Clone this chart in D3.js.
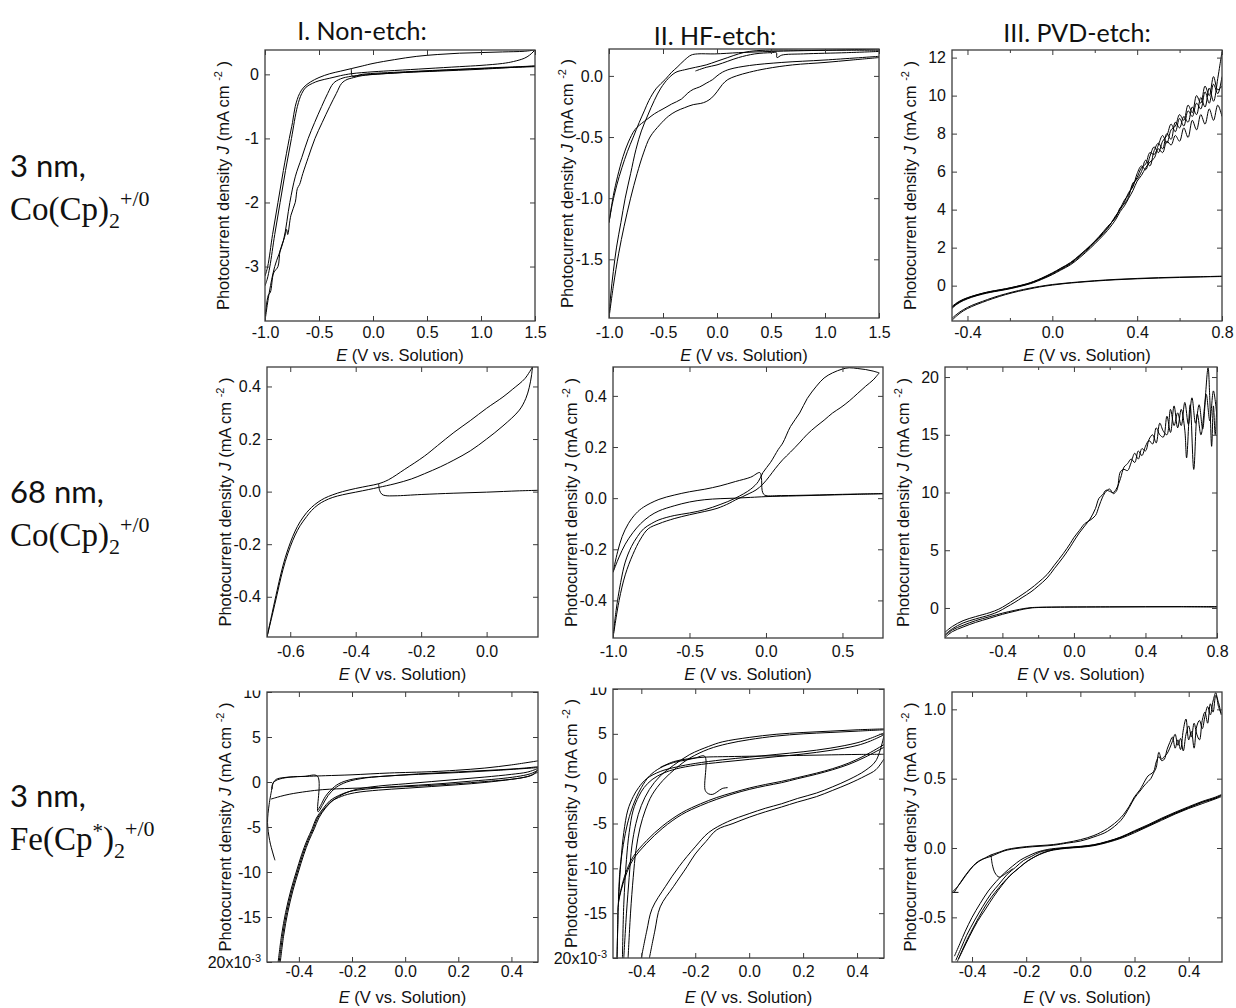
<!DOCTYPE html>
<html>
<head>
<meta charset="utf-8">
<script src="https://cdn.jsdelivr.net/npm/d3@7"></script>
<style>
  body { margin: 0; background: #fff; }
  svg { display: block; }
</style>
</head>
<body>
<script>
// ---------- column / row headings ----------
const colTitles = ['I. Non-etch:', 'II. HF-etch:', 'III. PVD-etch:']

// ---------- tick values ----------
const xTicksWide = [-1, -0.5, 0, 0.5, 1, 1.5]
const xTicksPvd = [-0.4, 0, 0.4, 0.8]
const xMinorPvd3 = [-0.2, 0.2, 0.6]
const xMinorPvd68 = [-0.6, -0.2, 0.2, 0.6]
const xTicks68Non = [-0.6, -0.4, -0.2, 0]
const xTicks68Hf = [-1, -0.5, 0, 0.5]
const xTicksFe = [-0.4, -0.2, 0, 0.2, 0.4]
const yTicksP1 = [0, -1, -2, -3]
const yTicksP2 = [0, -0.5, -1, -1.5]
const yTicksP3 = [0, 2, 4, 6, 8, 10, 12]
const yTicks68 = [-0.4, -0.2, 0, 0.2, 0.4]
const yTicksP6 = [0, 5, 10, 15, 20]
const yTicksFe = [10, 5, 0, -5, -10, -15, -20]
const yTicksP9 = [1, 0.5, 0, -0.5]

// ---------- I. Non-etch, 3 nm Co(Cp)2 ----------
const p1Fwd = [[-1.0,-3.15],[-0.975,-3.0],[-0.93,-2.5],[-0.88,-2.0],[-0.83,-1.5],[-0.775,-1.0],[-0.745,-0.75],[-0.72,-0.5],[-0.68,-0.3],[-0.64,-0.2],[-0.58,-0.12],[-0.5,-0.05],[-0.4,0.01],[-0.3,0.05],[-0.2,0.09],[-0.1,0.13],[0.0,0.17],[0.2,0.23],[0.4,0.28],[0.6,0.31],[0.8,0.33],[1.0,0.34],[1.2,0.35],[1.4,0.36],[1.5,0.38]]
const p1Rev = [[1.5,0.38],[1.45,0.3],[1.4,0.25],[1.3,0.2],[1.2,0.17],[1.0,0.14],[0.8,0.12],[0.5,0.09],[0.2,0.06],[0.0,0.04],[-0.2,0.01],[-0.3,-0.02],[-0.4,-0.06],[-0.5,-0.1],[-0.56,-0.14],[-0.62,-0.2],[-0.66,-0.3],[-0.7,-0.5],[-0.755,-1.0],[-0.81,-1.5],[-0.86,-2.0],[-0.91,-2.5],[-0.955,-3.0],[-0.98,-3.2],[-1.0,-3.3]]
const p1Mid1 = [[-1.0,-3.85],[-0.96,-3.4],[-0.91,-3.0],[-0.83,-2.6],[-0.77,-2.0],[-0.72,-1.6],[-0.66,-1.3],[-0.6,-1.0],[-0.54,-0.75],[-0.475,-0.5],[-0.42,-0.3],[-0.367,-0.14],[-0.3,-0.07],[-0.2,-0.03],[0.0,0.0],[0.3,0.03],[0.6,0.05],[1.0,0.08],[1.5,0.13]]
const p1Mid2 = [[-1.0,-3.8],[-0.97,-3.45],[-0.95,-3.4],[-0.92,-3.1],[-0.88,-3.0],[-0.86,-2.75],[-0.82,-2.55],[-0.8,-2.42],[-0.79,-2.5],[-0.76,-2.2],[-0.72,-2.0],[-0.7,-1.78],[-0.68,-1.72],[-0.65,-1.55],[-0.6,-1.3],[-0.537,-1.0],[-0.47,-0.75],[-0.4,-0.5],[-0.34,-0.3],[-0.29,-0.14],[-0.24,-0.08],[-0.2,-0.06],[-0.1,-0.02],[0.2,0.02],[0.5,0.05],[1.0,0.09],[1.5,0.12]]
const p1Start = [[-0.2,0.09],[-0.19,-0.03],[-0.1,0.0],[0.3,0.04],[0.8,0.08],[1.2,0.11],[1.5,0.13]]

// ---------- II. HF-etch, 3 nm Co(Cp)2 ----------
const p2A = [[-1.0,-1.2],[-0.97,-1.05],[-0.93,-0.9],[-0.88,-0.75],[-0.83,-0.62],[-0.775,-0.5],[-0.72,-0.38],[-0.67,-0.28],[-0.63,-0.2],[-0.56,-0.1],[-0.48,-0.03],[-0.42,0.03],[-0.37,0.07],[-0.3,0.13],[-0.24,0.17],[-0.18,0.18],[-0.02,0.18],[0.2,0.19],[0.5,0.2],[1.0,0.21],[1.5,0.22]]
const p2B = [[-1.0,-1.2],[-0.96,-0.98],[-0.92,-0.82],[-0.87,-0.66],[-0.82,-0.54],[-0.76,-0.44],[-0.7,-0.39],[-0.64,-0.35],[-0.58,-0.31],[-0.5,-0.27],[-0.42,-0.23],[-0.33,-0.19],[-0.27,-0.14],[-0.22,-0.11],[-0.16,-0.09],[-0.1,-0.06],[-0.04,-0.03],[0.0,0.0],[0.05,0.03],[0.12,0.055],[0.3,0.085],[0.6,0.11],[1.0,0.13],[1.5,0.16]]
const p2C = [[-1.0,-1.98],[-0.96,-1.72],[-0.91,-1.45],[-0.86,-1.23],[-0.8,-1.0],[-0.74,-0.8],[-0.68,-0.63],[-0.62,-0.5],[-0.53,-0.4],[-0.45,-0.33],[-0.38,-0.29],[-0.3,-0.26],[-0.22,-0.235],[-0.15,-0.225],[-0.1,-0.21],[-0.05,-0.18],[0.0,-0.13],[0.05,-0.07],[0.1,-0.03],[0.18,0.0],[0.3,0.03],[0.46,0.06],[0.7,0.09],[1.0,0.11],[1.25,0.13],[1.5,0.15]]
const p2D = [[-1.0,-1.98],[-0.985,-1.8],[-0.96,-1.6],[-0.93,-1.4],[-0.89,-1.2],[-0.85,-1.0],[-0.8,-0.8],[-0.75,-0.6],[-0.7,-0.45],[-0.64,-0.32],[-0.58,-0.2],[-0.52,-0.1],[-0.45,-0.02],[-0.38,0.03],[-0.3,0.05],[-0.2,0.07],[-0.1,0.09],[0.0,0.12],[0.1,0.15],[0.2,0.18],[0.3,0.2],[0.45,0.21],[0.8,0.21],[1.2,0.21],[1.5,0.21]]
const p2Start = [[-0.2,0.04],[-0.1,0.07],[0.0,0.09],[0.1,0.12],[0.2,0.15],[0.35,0.18],[0.5,0.19],[0.55,0.19],[0.555,0.15],[0.6,0.17],[0.8,0.18],[1.2,0.19],[1.5,0.2]]

// ---------- III. PVD-etch, 3 nm Co(Cp)2 ----------
const p3Up1 = [[-0.473,-1.15],[-0.45,-0.95],[-0.42,-0.76],[-0.38,-0.59],[-0.33,-0.43],[-0.29,-0.33],[-0.22,-0.19],[-0.17,-0.07],[-0.12,0.07],[-0.088,0.19],[-0.05,0.36],[0.0,0.62],[0.04,0.86],[0.086,1.15],[0.13,1.55],[0.18,2.05],[0.22,2.5],[0.26,3.0],[0.3,3.7],[0.32,4.0],[0.34,4.4],[0.36,4.9],[0.38,5.2],[0.4,5.9],[0.42,6.3],[0.44,6.1],[0.46,6.8],[0.48,7.3],[0.5,7.0],[0.52,7.6],[0.54,7.9],[0.56,8.5],[0.58,8.1],[0.6,8.8],[0.62,8.4],[0.64,9.2],[0.66,8.9],[0.68,9.6],[0.7,9.3],[0.72,10.2],[0.74,9.6],[0.76,10.6],[0.78,10.1],[0.8,11.0]]
const p3Up2 = [[-0.473,-1.1],[-0.45,-0.9],[-0.42,-0.72],[-0.38,-0.56],[-0.33,-0.4],[-0.29,-0.3],[-0.22,-0.16],[-0.17,-0.04],[-0.12,0.1],[-0.088,0.22],[-0.05,0.4],[0.0,0.67],[0.04,0.92],[0.086,1.22],[0.13,1.62],[0.18,2.12],[0.22,2.58],[0.26,3.1],[0.3,3.6],[0.32,4.1],[0.34,4.3],[0.36,4.7],[0.38,5.4],[0.4,5.6],[0.42,6.0],[0.44,6.6],[0.46,6.3],[0.48,7.1],[0.5,7.5],[0.52,7.2],[0.54,8.0],[0.56,7.7],[0.58,8.6],[0.6,8.3],[0.62,8.9],[0.64,8.6],[0.66,9.4],[0.68,9.0],[0.7,9.9],[0.72,9.4],[0.74,10.4],[0.76,9.7],[0.78,10.9],[0.79,11.6],[0.8,12.3]]
const p3Up3 = [[-0.473,-1.2],[-0.45,-0.98],[-0.42,-0.79],[-0.38,-0.61],[-0.33,-0.45],[-0.29,-0.35],[-0.22,-0.21],[-0.17,-0.09],[-0.12,0.05],[-0.088,0.16],[-0.05,0.33],[0.0,0.58],[0.04,0.82],[0.086,1.1],[0.13,1.48],[0.18,1.98],[0.22,2.42],[0.26,2.9],[0.3,3.5],[0.32,3.9],[0.34,4.2],[0.36,4.6],[0.38,5.0],[0.4,5.5],[0.42,5.8],[0.44,6.2],[0.46,6.5],[0.48,6.7],[0.5,7.2],[0.52,7.0],[0.54,7.6],[0.56,7.4],[0.58,7.9],[0.6,7.6],[0.62,8.3],[0.64,7.8],[0.66,8.7],[0.68,8.2],[0.7,9.0],[0.72,8.5],[0.74,9.3],[0.76,8.7],[0.78,9.5],[0.8,8.9]]
const p3Up4 = [[-0.473,-1.13],[-0.45,-0.93],[-0.42,-0.74],[-0.38,-0.57],[-0.33,-0.41],[-0.29,-0.31],[-0.22,-0.17],[-0.17,-0.05],[-0.12,0.09],[-0.088,0.21],[-0.05,0.38],[0.0,0.65],[0.04,0.9],[0.086,1.19],[0.13,1.6],[0.18,2.1],[0.22,2.55],[0.26,3.05],[0.3,3.65],[0.32,4.05],[0.34,4.5],[0.36,4.8],[0.38,5.3],[0.4,5.7],[0.42,6.2],[0.44,6.4],[0.46,7.0],[0.48,6.9],[0.5,7.4],[0.52,7.9],[0.54,7.5],[0.56,8.2],[0.58,8.4],[0.6,9.0],[0.62,8.7],[0.64,9.5],[0.66,9.1],[0.68,10.0],[0.7,9.6],[0.72,10.5],[0.74,10.0],[0.76,11.0],[0.78,10.3],[0.8,10.5]]
const p3Low1 = [[-0.473,-1.82],[-0.45,-1.58],[-0.42,-1.33],[-0.38,-1.1],[-0.33,-0.88],[-0.28,-0.68],[-0.22,-0.47],[-0.16,-0.3],[-0.11,-0.18],[-0.06,-0.07],[0.0,0.03],[0.06,0.11],[0.12,0.17],[0.2,0.24],[0.3,0.31],[0.4,0.36],[0.5,0.4],[0.6,0.43],[0.7,0.46],[0.8,0.48]]
const p3Low2 = [[-0.473,-1.72],[-0.45,-1.5],[-0.42,-1.27],[-0.38,-1.04],[-0.33,-0.83],[-0.28,-0.63],[-0.22,-0.43],[-0.16,-0.26],[-0.11,-0.14],[-0.06,-0.04],[0.0,0.06],[0.06,0.13],[0.12,0.19],[0.2,0.26],[0.3,0.33],[0.4,0.38],[0.5,0.42],[0.6,0.45],[0.7,0.47],[0.8,0.5]]

// ---------- I. Non-etch, 68 nm Co(Cp)2 ----------
const p4Start = [[-0.33,0.03],[-0.327,0.005],[-0.32,-0.01],[-0.31,-0.015],[-0.28,-0.016],[-0.2,-0.011],[-0.1,-0.006],[0.0,-0.002],[0.1,0.003],[0.157,0.005]]
const p4Fwd = [[-0.671,-0.553],[-0.655,-0.47],[-0.64,-0.39],[-0.628,-0.325],[-0.615,-0.265],[-0.6,-0.21],[-0.585,-0.165],[-0.57,-0.13],[-0.55,-0.095],[-0.535,-0.072],[-0.515,-0.05],[-0.495,-0.035],[-0.47,-0.022],[-0.44,-0.012],[-0.4,-0.002],[-0.36,0.008],[-0.33,0.016],[-0.28,0.03],[-0.23,0.048],[-0.19,0.068],[-0.14,0.095],[-0.1,0.12],[-0.05,0.155],[0.0,0.2],[0.05,0.25],[0.1,0.31],[0.12,0.355],[0.13,0.395],[0.137,0.44],[0.14,0.474]]
const p4Rev = [[0.14,0.474],[0.117,0.43],[0.08,0.39],[0.05,0.36],[0.0,0.317],[-0.05,0.27],[-0.1,0.225],[-0.15,0.175],[-0.19,0.135],[-0.25,0.085],[-0.3,0.045],[-0.33,0.03],[-0.36,0.022],[-0.4,0.012],[-0.44,0.0],[-0.47,-0.012],[-0.495,-0.025],[-0.515,-0.04],[-0.535,-0.06],[-0.55,-0.08],[-0.57,-0.115],[-0.585,-0.15],[-0.6,-0.195],[-0.615,-0.25],[-0.628,-0.31],[-0.64,-0.375],[-0.655,-0.46],[-0.671,-0.553]]

// ---------- II. HF-etch, 68 nm Co(Cp)2 ----------
const p5Top = [[-1.0,-0.29],[-0.97,-0.21],[-0.94,-0.15],[-0.9,-0.1],[-0.85,-0.06],[-0.8,-0.035],[-0.7,-0.005],[-0.6,0.012],[-0.5,0.025],[-0.4,0.035],[-0.3,0.048],[-0.2,0.065],[-0.1,0.082],[-0.04,0.1],[-0.03,0.08],[-0.025,0.03],[-0.015,0.015],[0.0,0.01],[0.1,0.01],[0.3,0.012],[0.5,0.015],[0.765,0.018]]
const p5Flat = [[-1.0,-0.29],[-0.96,-0.23],[-0.92,-0.18],[-0.87,-0.135],[-0.82,-0.1],[-0.76,-0.07],[-0.7,-0.05],[-0.6,-0.03],[-0.5,-0.015],[-0.4,-0.006],[-0.3,-0.002],[-0.2,0.0],[-0.1,0.003],[0.0,0.006],[0.2,0.009],[0.4,0.012],[0.6,0.015],[0.765,0.017]]
const p5Fwd = [[-1.0,-0.547],[-0.98,-0.44],[-0.95,-0.33],[-0.92,-0.25],[-0.88,-0.19],[-0.84,-0.15],[-0.8,-0.12],[-0.75,-0.1],[-0.7,-0.085],[-0.6,-0.068],[-0.5,-0.058],[-0.4,-0.045],[-0.3,-0.025],[-0.2,0.0],[-0.1,0.035],[-0.05,0.065],[-0.02,0.1],[0.03,0.14],[0.08,0.19],[0.11,0.216],[0.16,0.28],[0.22,0.333],[0.27,0.39],[0.33,0.438],[0.38,0.47],[0.435,0.49],[0.5,0.505],[0.544,0.51],[0.6,0.507],[0.652,0.503],[0.7,0.497],[0.74,0.49]]
const p5Rev = [[0.74,0.49],[0.7,0.462],[0.652,0.438],[0.6,0.41],[0.544,0.38],[0.49,0.355],[0.435,0.333],[0.38,0.305],[0.327,0.28],[0.27,0.25],[0.218,0.216],[0.16,0.18],[0.109,0.15],[0.06,0.115],[0.022,0.085],[-0.02,0.055],[-0.065,0.032],[-0.11,0.018],[-0.152,0.006],[-0.2,-0.007],[-0.24,-0.02],[-0.32,-0.04],[-0.4,-0.052],[-0.5,-0.065],[-0.6,-0.08],[-0.7,-0.1],[-0.77,-0.12],[-0.82,-0.16],[-0.87,-0.22],[-0.92,-0.3],[-0.96,-0.4],[-1.0,-0.547]]

// ---------- III. PVD-etch, 68 nm Co(Cp)2 ----------
const p6Up1 = [[-0.721,-2.3],[-0.68,-1.8],[-0.62,-1.3],[-0.55,-0.95],[-0.47,-0.6],[-0.42,-0.3],[-0.38,0.05],[-0.33,0.5],[-0.29,0.9],[-0.24,1.4],[-0.2,1.9],[-0.15,2.6],[-0.11,3.4],[-0.06,4.4],[-0.02,5.3],[0.0,5.8],[0.03,6.5],[0.06,7.1],[0.09,7.7],[0.12,8.6],[0.14,9.5],[0.16,9.8],[0.18,10.2],[0.2,10.1],[0.22,10.0],[0.24,10.4],[0.26,11.2],[0.28,12.2],[0.3,12.5],[0.32,12.9],[0.34,12.6],[0.36,13.6],[0.38,13.2],[0.4,14.0],[0.42,14.5],[0.44,14.2],[0.46,15.6],[0.48,15.0],[0.5,14.8],[0.52,16.6],[0.54,15.2],[0.56,17.5],[0.58,15.6],[0.6,17.2],[0.62,15.4],[0.63,13.0],[0.65,17.6],[0.67,12.0],[0.69,16.8],[0.71,15.0],[0.73,17.4],[0.75,20.8],[0.76,18.0],[0.77,14.0],[0.78,17.5],[0.79,15.0],[0.8,18.0]]
const p6Up2 = [[-0.721,-2.1],[-0.68,-1.6],[-0.62,-1.1],[-0.55,-0.75],[-0.47,-0.4],[-0.42,-0.1],[-0.38,0.25],[-0.33,0.75],[-0.29,1.15],[-0.24,1.7],[-0.2,2.2],[-0.15,2.9],[-0.11,3.7],[-0.06,4.7],[-0.02,5.6],[0.0,6.1],[0.03,6.7],[0.06,7.3],[0.09,7.6],[0.12,8.0],[0.14,8.8],[0.16,9.6],[0.18,10.1],[0.2,10.3],[0.22,9.9],[0.24,10.2],[0.26,11.8],[0.28,12.0],[0.3,11.9],[0.32,12.6],[0.34,13.4],[0.36,12.9],[0.38,13.8],[0.4,13.6],[0.42,14.6],[0.44,15.0],[0.46,14.3],[0.48,16.0],[0.5,15.3],[0.52,15.0],[0.54,17.2],[0.56,15.8],[0.58,16.9],[0.6,15.8],[0.62,17.8],[0.64,15.9],[0.66,18.2],[0.68,16.0],[0.7,17.6],[0.72,15.5],[0.74,18.5],[0.76,16.2],[0.78,18.8],[0.8,16.5]]
const p6Low1 = [[-0.721,-2.55],[-0.68,-2.05],[-0.62,-1.65],[-0.55,-1.25],[-0.47,-0.88],[-0.4,-0.55],[-0.33,-0.28],[-0.28,-0.1],[-0.24,0.0],[-0.2,0.04],[-0.1,0.07],[0.0,0.08],[0.2,0.09],[0.4,0.1],[0.6,0.1],[0.8,0.08]]
const p6Low2 = [[-0.721,-2.4],[-0.68,-1.9],[-0.62,-1.5],[-0.55,-1.1],[-0.47,-0.75],[-0.4,-0.45],[-0.33,-0.2],[-0.28,-0.05],[-0.24,0.03],[-0.2,0.06],[-0.1,0.08],[0.0,0.09],[0.2,0.1],[0.4,0.11],[0.6,0.12],[0.8,0.12]]

// ---------- I. Non-etch, 3 nm Fe(Cp*)2 ----------
const p7Bot1 = [[-0.478,-20],[-0.465,-17],[-0.45,-14.5],[-0.43,-12],[-0.41,-10],[-0.39,-8.1],[-0.37,-6.5],[-0.35,-5.2],[-0.334,-4.0],[-0.31,-3.0],[-0.284,-2.1],[-0.25,-1.5],[-0.209,-1.05],[-0.15,-0.8],[-0.06,-0.55],[0.05,-0.35],[0.15,-0.15],[0.25,0.1],[0.35,0.35],[0.42,0.6],[0.47,0.9],[0.5,1.3]]
const p7Bot2 = [[-0.47,-20],[-0.457,-17],[-0.442,-14.5],[-0.422,-12],[-0.402,-10],[-0.382,-8.1],[-0.362,-6.5],[-0.342,-5.2],[-0.325,-4.0],[-0.3,-2.9],[-0.27,-2.0],[-0.23,-1.3],[-0.18,-0.8],[-0.1,-0.45],[0.0,-0.2],[0.1,0.05],[0.2,0.3],[0.3,0.55],[0.4,0.85],[0.46,1.1],[0.5,1.5]]
const p7Bot3 = [[-0.474,-20],[-0.461,-17],[-0.446,-14.5],[-0.426,-12],[-0.406,-10],[-0.386,-8.1],[-0.366,-6.5],[-0.346,-5.2],[-0.33,-4.0],[-0.305,-3.0],[-0.28,-2.2],[-0.24,-1.6],[-0.19,-1.2],[-0.1,-0.9],[0.0,-0.7],[0.1,-0.5],[0.2,-0.3],[0.3,-0.05],[0.4,0.3],[0.46,0.6],[0.5,1.1]]
const p7Top1 = [[-0.503,-0.96],[-0.5,-0.3],[-0.49,0.1],[-0.47,0.35],[-0.43,0.55],[-0.38,0.62],[-0.33,0.65],[-0.328,-3.3],[-0.31,-2.5],[-0.29,-1.5],[-0.26,-0.6],[-0.22,0.0],[-0.15,0.45],[-0.05,0.7],[0.05,0.9],[0.15,1.05],[0.25,1.2],[0.35,1.35],[0.45,1.55],[0.5,1.7]]
const p7Top2 = [[-0.5,-0.8],[-0.497,-0.1],[-0.485,0.3],[-0.46,0.48],[-0.42,0.58],[-0.36,0.64],[-0.3,0.7],[-0.2,0.8],[-0.06,1.0],[0.1,1.15],[0.19,1.3],[0.3,1.55],[0.4,1.9],[0.5,2.35]]
const p7Drop = [[-0.328,-3.1],[-0.318,-2.6],[-0.3,-1.6],[-0.28,-0.9],[-0.25,-0.2],[-0.2,0.3],[-0.1,0.6],[0.05,0.85],[0.2,1.05],[0.35,1.3],[0.5,1.6]]
const p7Low = [[-0.505,-1.9],[-0.47,-1.6],[-0.434,-1.35],[-0.37,-1.05],[-0.31,-0.85],[-0.2,-0.7],[-0.06,-0.58],[0.05,-0.45],[0.19,-0.2],[0.3,0.05],[0.4,0.3],[0.44,0.48],[0.48,0.8],[0.5,1.4]]
const p7Spike = [[-0.503,-0.96],[-0.512,-2.5],[-0.518,-4.5],[-0.51,-6.5],[-0.497,-8.0],[-0.49,-8.7]]

// ---------- II. HF-etch, 3 nm Fe(Cp*)2 ----------
const p8Thick1 = [[-0.49,-20],[-0.487,-16],[-0.485,-13.9],[-0.46,-11],[-0.43,-9],[-0.38,-7.2],[-0.32,-5.5],[-0.25,-4.0],[-0.18,-3.0],[-0.12,-2.3],[-0.06,-1.7],[0.0,-1.2],[0.06,-0.8],[0.12,-0.45],[0.18,0.0],[0.25,0.5],[0.31,1.0],[0.37,1.6],[0.43,2.4],[0.5,3.5]]
const p8Thick2 = [[-0.485,-13.6],[-0.46,-10.7],[-0.43,-8.7],[-0.38,-6.9],[-0.32,-5.25],[-0.25,-3.8],[-0.18,-2.8],[-0.12,-2.1],[-0.06,-1.55],[0.0,-1.05],[0.06,-0.65],[0.12,-0.3],[0.18,0.12],[0.25,0.62],[0.31,1.12],[0.37,1.75],[0.43,2.6],[0.5,3.8]]
const p8Start = [[-0.485,-13.9],[-0.48,-10.5],[-0.47,-8.0],[-0.455,-5.5],[-0.44,-3.8],[-0.42,-2.2],[-0.4,-1.0],[-0.37,0.3],[-0.33,1.2],[-0.28,1.8],[-0.23,2.1],[-0.2,2.3],[-0.165,2.5],[-0.163,-1.3],[-0.15,-1.7],[-0.135,-1.75],[-0.12,-1.5],[-0.1,-1.1],[-0.08,-1.0]]
const p8Flat = [[-0.33,1.25],[-0.28,1.9],[-0.23,2.2],[-0.165,2.4],[-0.1,2.45],[0.0,2.5],[0.2,2.6],[0.4,2.7],[0.5,2.72]]
const p8Up1 = [[-0.465,-20],[-0.455,-15],[-0.445,-11],[-0.435,-7.5],[-0.42,-5.0],[-0.4,-3.0],[-0.37,-1.2],[-0.33,0.3],[-0.28,1.5],[-0.22,2.7],[-0.15,3.6],[-0.1,4.1],[0.0,4.6],[0.1,4.95],[0.2,5.15],[0.3,5.3],[0.4,5.45],[0.5,5.55]]
const p8Up2 = [[-0.449,-20],[-0.44,-15],[-0.43,-11],[-0.42,-8.0],[-0.405,-5.5],[-0.385,-3.5],[-0.36,-1.8],[-0.32,-0.2],[-0.27,1.2],[-0.22,2.3],[-0.15,3.3],[-0.08,3.9],[0.0,4.35],[0.1,4.75],[0.2,5.0],[0.3,5.15],[0.4,5.3],[0.5,5.45]]
const p8Ret1 = [[0.5,5.1],[0.45,4.5],[0.4,4.0],[0.3,3.4],[0.2,3.0],[0.1,2.7],[0.0,2.4],[-0.1,2.1],[-0.2,1.7],[-0.27,1.3],[-0.33,0.8],[-0.38,0.0],[-0.41,-1.0],[-0.43,-2.0],[-0.45,-3.5],[-0.465,-6.0],[-0.475,-9.0],[-0.485,-14],[-0.49,-20]]
const p8Ret2 = [[0.5,4.9],[0.45,4.2],[0.4,3.7],[0.3,3.15],[0.2,2.75],[0.1,2.45],[0.0,2.15],[-0.1,1.85],[-0.2,1.5],[-0.27,1.1],[-0.32,0.6],[-0.36,-0.1],[-0.39,-1.0],[-0.41,-2.0],[-0.43,-3.5],[-0.445,-6.0],[-0.455,-9.0],[-0.465,-14],[-0.47,-20]]
const p8Lo1 = [[0.5,2.2],[0.47,1.0],[0.43,0.3],[0.37,-0.56],[0.31,-1.3],[0.25,-2.0],[0.18,-2.6],[0.12,-3.16],[0.06,-3.7],[0.0,-4.3],[-0.06,-5.0],[-0.12,-5.7],[-0.16,-7.0],[-0.2,-8.4],[-0.23,-9.8],[-0.28,-12],[-0.33,-14.3],[-0.35,-17],[-0.37,-20]]
const p8Lo2 = [[0.5,4.8],[0.47,2.0],[0.43,0.9],[0.37,-0.1],[0.31,-0.9],[0.25,-1.6],[0.18,-2.2],[0.12,-2.8],[0.06,-3.3],[0.0,-3.9],[-0.08,-4.8],[-0.15,-6.0],[-0.2,-7.6],[-0.26,-9.8],[-0.31,-12],[-0.36,-14.5],[-0.38,-17],[-0.4,-20]]

// ---------- III. PVD-etch, 3 nm Fe(Cp*)2 ----------
const p9Up1 = [[-0.466,-0.32],[-0.44,-0.24],[-0.41,-0.16],[-0.38,-0.1],[-0.35,-0.07],[-0.33,-0.05],[-0.3,-0.03],[-0.27,-0.01],[-0.2,0.01],[-0.1,0.025],[-0.05,0.04],[0.0,0.06],[0.05,0.09],[0.1,0.14],[0.15,0.22],[0.18,0.3],[0.2,0.37],[0.22,0.42],[0.24,0.49],[0.25,0.52],[0.27,0.55],[0.28,0.62],[0.29,0.66],[0.3,0.63],[0.31,0.64],[0.32,0.71],[0.33,0.76],[0.34,0.8],[0.35,0.72],[0.36,0.78],[0.37,0.71],[0.38,0.85],[0.39,0.93],[0.4,0.78],[0.41,0.84],[0.42,0.72],[0.43,0.88],[0.44,0.92],[0.45,0.86],[0.46,0.95],[0.47,1.02],[0.48,0.96],[0.49,1.06],[0.5,1.12],[0.51,1.02],[0.52,0.97]]
const p9Up2 = [[-0.474,-0.32],[-0.45,-0.27],[-0.42,-0.19],[-0.39,-0.12],[-0.36,-0.08],[-0.33,-0.06],[-0.3,-0.035],[-0.27,-0.015],[-0.2,0.005],[-0.1,0.02],[-0.05,0.035],[0.0,0.05],[0.05,0.08],[0.1,0.12],[0.15,0.2],[0.18,0.29],[0.2,0.36],[0.22,0.41],[0.24,0.46],[0.26,0.5],[0.27,0.54],[0.28,0.58],[0.29,0.69],[0.3,0.64],[0.31,0.66],[0.32,0.68],[0.33,0.72],[0.34,0.77],[0.35,0.82],[0.36,0.74],[0.37,0.79],[0.38,0.7],[0.39,0.82],[0.4,0.88],[0.41,0.8],[0.42,0.9],[0.43,0.82],[0.44,0.78],[0.45,0.92],[0.46,0.98],[0.47,0.9],[0.48,1.04],[0.49,0.98],[0.5,1.1],[0.51,1.05],[0.52,0.96]]
const p9Hook = [[-0.33,-0.05],[-0.325,-0.12],[-0.315,-0.18],[-0.3,-0.21],[-0.28,-0.19],[-0.25,-0.15]]
const p9Stub = [[-0.474,-0.32],[-0.45,-0.32]]
const p9Low1 = [[-0.46,-0.81],[-0.44,-0.72],[-0.42,-0.63],[-0.39,-0.52],[-0.36,-0.42],[-0.33,-0.33],[-0.3,-0.26],[-0.27,-0.19],[-0.24,-0.14],[-0.21,-0.09],[-0.18,-0.06],[-0.15,-0.03],[-0.1,-0.01],[-0.05,0.0],[0.0,0.008],[0.05,0.02],[0.1,0.044],[0.15,0.075],[0.2,0.12],[0.25,0.16],[0.3,0.21],[0.35,0.25],[0.4,0.29],[0.45,0.33],[0.5,0.36],[0.52,0.38]]
const p9Low2 = [[-0.455,-0.82],[-0.435,-0.74],[-0.41,-0.64],[-0.38,-0.53],[-0.35,-0.44],[-0.32,-0.35],[-0.29,-0.27],[-0.26,-0.2],[-0.23,-0.15],[-0.2,-0.1],[-0.17,-0.065],[-0.14,-0.035],[-0.1,-0.015],[-0.05,-0.002],[0.0,0.005],[0.05,0.017],[0.1,0.04],[0.15,0.07],[0.2,0.11],[0.25,0.155],[0.3,0.2],[0.35,0.245],[0.4,0.285],[0.45,0.32],[0.5,0.355],[0.52,0.37]]
const p9Low3 = [[-0.465,-0.78],[-0.445,-0.69],[-0.425,-0.6],[-0.4,-0.5],[-0.37,-0.4],[-0.34,-0.31],[-0.31,-0.24],[-0.28,-0.18],[-0.25,-0.13],[-0.22,-0.085],[-0.19,-0.055],[-0.16,-0.03],[-0.12,-0.01],[-0.06,0.003],[0.0,0.012],[0.05,0.024],[0.1,0.048],[0.15,0.08],[0.2,0.125],[0.25,0.168],[0.3,0.215],[0.35,0.258],[0.4,0.298],[0.45,0.336],[0.5,0.368],[0.52,0.385]]
const p9Low4 = [[-0.45,-0.8],[-0.43,-0.71],[-0.405,-0.61],[-0.375,-0.5],[-0.345,-0.4],[-0.315,-0.32],[-0.285,-0.25],[-0.255,-0.19],[-0.225,-0.14],[-0.195,-0.095],[-0.165,-0.06],[-0.135,-0.035],[-0.1,-0.012],[-0.05,0.002],[0.0,0.01],[0.05,0.022],[0.1,0.046],[0.15,0.078],[0.2,0.118],[0.25,0.162],[0.3,0.207],[0.35,0.252],[0.4,0.292],[0.45,0.33],[0.5,0.362],[0.52,0.378]]

// ---------- panel layout ----------
const panels = [
  { box: [265, 50, 535, 321], xd: [-1, 1.5], yd: [-3.85, 0.38], xt: xTicksWide, yt: yTicksP1, yDec: 0, tickY: 327, labY: 361, traces: [p1Fwd, p1Rev, p1Mid1, p1Mid2, p1Start] },
  { box: [609, 49, 879, 318], xd: [-1, 1.5], yd: [-1.98, 0.22], xt: xTicksWide, yt: yTicksP2, yDec: 1, tickY: 327, labY: 361, traces: [p2A, p2B, p2C, p2D, p2Start] },
  { box: [952, 50, 1222, 321], xd: [-0.473, 0.8], yd: [-1.86, 12.4], xt: xTicksPvd, xm: xMinorPvd3, yt: yTicksP3, yDec: 0, tickY: 327, labY: 361, traces: [p3Up1, p3Up2, p3Up3, p3Up4, p3Low1, p3Low2] },
  { box: [267, 367, 538, 637], xd: [-0.671, 0.157], yd: [-0.553, 0.474], xt: xTicks68Non, yt: yTicks68, yDec: 1, tickY: 646, labY: 680, traces: [p4Start, p4Fwd, p4Rev] },
  { box: [613, 367, 883, 638], xd: [-1, 0.765], yd: [-0.547, 0.513], xt: xTicks68Hf, yt: yTicks68, yDec: 1, tickY: 646, labY: 680, traces: [p5Top, p5Flat, p5Fwd, p5Rev] },
  { box: [945, 367, 1217, 638], xd: [-0.721, 0.8], yd: [-2.6, 20.87], xt: xTicksPvd, xm: xMinorPvd68, yt: yTicksP6, yDec: 0, tickY: 646, labY: 680, traces: [p6Up1, p6Up2, p6Low1, p6Low2] },
  { box: [267, 692, 538, 962], xd: [-0.52, 0.5], yd: [-20, 10], xt: xTicksFe, yt: yTicksFe, yDec: 0, tickY: 966, labY: 1003, clipTop: true, traces: [p7Bot1, p7Bot2, p7Bot3, p7Top1, p7Top2, p7Drop, p7Low, p7Spike] },
  { box: [613, 689, 884, 958], xd: [-0.505, 0.5], yd: [-20, 10], xt: xTicksFe, yt: yTicksFe, yDec: 0, tickY: 966, labY: 1003, clipTop: true, traces: [p8Thick1, p8Thick2, p8Start, p8Flat, p8Up1, p8Up2, p8Ret1, p8Ret2, p8Lo1, p8Lo2] },
  { box: [952, 692, 1222, 962], xd: [-0.474, 0.523], yd: [-0.822, 1.125], xt: xTicksFe, yt: yTicksP9, yDec: 1, tickY: 966, labY: 1003, traces: [p9Up1, p9Up2, p9Hook, p9Stub, p9Low1, p9Low2, p9Low3, p9Low4] }
]

const W = 1236, H = 1008
const axisFont = 'Liberation Sans, Arial, Helvetica, sans-serif'
const frameColor = '#3c3c3c'

const svg = d3.select('body').append('svg')
  .attr('width', W)
  .attr('height', H)
  .style('background', '#fff')

const defs = svg.append('defs')
const fmt = dec => v => (Math.abs(v) < 1e-9 ? 0 : v).toFixed(dec)

panels.forEach((p, i) => {
  const [l, t, r, b] = p.box
  const x = d3.scaleLinear().domain(p.xd).range([l, r])
  const y = d3.scaleLinear().domain(p.yd).range([b, t])
  const g = svg.append('g').attr('font-family', axisFont)

  defs.append('clipPath').attr('id', 'plot' + i)
    .append('rect').attr('x', l).attr('y', t).attr('width', r - l).attr('height', b - t)

  // traces
  const line = d3.line()
    .x(d => x(d[0]))
    .y(d => y(d[1]))
    .curve(d3.curveCatmullRom.alpha(0.5))
  g.append('g')
    .attr('clip-path', `url(#plot${i})`)
    .selectAll('path')
    .data(p.traces)
    .join('path')
    .attr('d', line)
    .attr('fill', 'none')
    .attr('stroke', '#000')
    .attr('stroke-width', 1)
    .attr('stroke-linejoin', 'round')

  // bottom axis with labels, ticks pointing inward
  const gx = g.append('g')
    .attr('transform', `translate(0,${b})`)
    .call(d3.axisBottom(x).tickValues(p.xt).tickFormat(fmt(1)).tickSize(-5).tickSizeOuter(0).tickPadding(p.tickY - b))
  const gTop = g.append('g')
    .attr('transform', `translate(0,${t})`)
    .call(d3.axisTop(x).tickValues(p.xt).tickFormat('').tickSize(-5).tickSizeOuter(0))
  if (p.xm) {
    g.append('g').attr('transform', `translate(0,${b})`)
      .call(d3.axisBottom(x).tickValues(p.xm).tickFormat('').tickSize(-3).tickSizeOuter(0))
    g.append('g').attr('transform', `translate(0,${t})`)
      .call(d3.axisTop(x).tickValues(p.xm).tickFormat('').tickSize(-3).tickSizeOuter(0))
  }

  // left axis with labels, right axis ticks only
  const gy = g.append('g')
    .attr('transform', `translate(${l},0)`)
    .call(d3.axisLeft(y).tickValues(p.yt).tickFormat(fmt(p.yDec)).tickSize(-5).tickSizeOuter(0).tickPadding(6))
  if (p.clipTop) {
    // the top "10" label is half hidden under the row above in the original
    defs.append('clipPath').attr('id', 'yax' + i)
      .append('rect').attr('x', -W).attr('y', t - 1.5).attr('width', 2 * W).attr('height', H)
    gy.attr('clip-path', `url(#yax${i})`)
  }
  const gRight = g.append('g')
    .attr('transform', `translate(${r},0)`)
    .call(d3.axisRight(y).tickValues(p.yt).tickFormat('').tickSize(-5).tickSizeOuter(0))

  // Igor-style bottom label "20x10^-3"
  gy.selectAll('.tick text')
    .filter(d => d === -20)
    .text('20x10')
    .append('tspan').attr('dy', -6).attr('font-size', 11).text('-3')

  ;[gx, gTop, gy, gRight].forEach(a => {
    a.selectAll('text').attr('font-size', 16).attr('fill', '#111')
  })
  g.selectAll('.domain').remove()
  g.selectAll('.tick line').attr('stroke', frameColor)

  // frame
  g.append('rect')
    .attr('x', l).attr('y', t).attr('width', r - l).attr('height', b - t)
    .attr('fill', 'none').attr('stroke', frameColor).attr('stroke-width', 1.3)

  // x-axis title
  const xl = g.append('text')
    .attr('x', (l + r) / 2).attr('y', p.labY)
    .attr('text-anchor', 'middle').attr('font-size', 16.5).attr('fill', '#111')
  xl.append('tspan').attr('font-style', 'italic').text('E')
  xl.append('tspan').text(' (V vs. Solution)')

  // y-axis title
  const yl = g.append('text')
    .attr('transform', `translate(${l - 36},${(t + b) / 2}) rotate(-90)`)
    .attr('text-anchor', 'middle').attr('font-size', 16.5).attr('fill', '#111')
  yl.append('tspan').text('Photocurrent density ')
  yl.append('tspan').attr('font-style', 'italic').text('J')
  yl.append('tspan').text(' (mA cm ')
  yl.append('tspan').attr('font-size', 11).attr('dy', -7).text('-2')
  yl.append('tspan').attr('dy', 7).text(' )')
})

// column titles
const titleX = [362, 715, 1077]
const titleY = [40, 45, 42]
svg.selectAll('text.col')
  .data(colTitles)
  .join('text')
  .attr('class', 'col')
  .attr('x', (d, i) => titleX[i])
  .attr('y', (d, i) => titleY[i])
  .attr('text-anchor', 'middle')
  .attr('font-family', 'Lato, "Open Sans", sans-serif')
  .attr('font-size', 25)
  .attr('fill', '#111')
  .text(d => d)

// row labels
const rows = [
  { size: '3 nm,', metal: 'Co(Cp', star: false, y: 177 },
  { size: '68 nm,', metal: 'Co(Cp', star: false, y: 503 },
  { size: '3 nm,', metal: 'Fe(Cp', star: true, y: 807 }
]
rows.forEach(rw => {
  svg.append('text')
    .attr('x', 10).attr('y', rw.y)
    .attr('font-family', 'Lato, "Open Sans", sans-serif')
    .attr('font-size', 31).attr('fill', '#111')
    .text(rw.size)
  const tx = svg.append('text')
    .attr('x', 10).attr('y', rw.y + 43)
    .attr('font-family', '"Liberation Serif", "Times New Roman", serif')
    .attr('font-size', 33).attr('fill', '#111')
  tx.append('tspan').text(rw.metal)
  if (rw.star) {
    tx.append('tspan').attr('font-size', 21).attr('dy', -12).text('*')
    tx.append('tspan').attr('dy', 12).text(')')
  } else {
    tx.append('tspan').text(')')
  }
  tx.append('tspan').attr('font-size', 22).attr('dy', 8).text('2')
  tx.append('tspan').attr('font-size', 22).attr('dy', -22).text('+/0')
})
</script>
</body>
</html>
